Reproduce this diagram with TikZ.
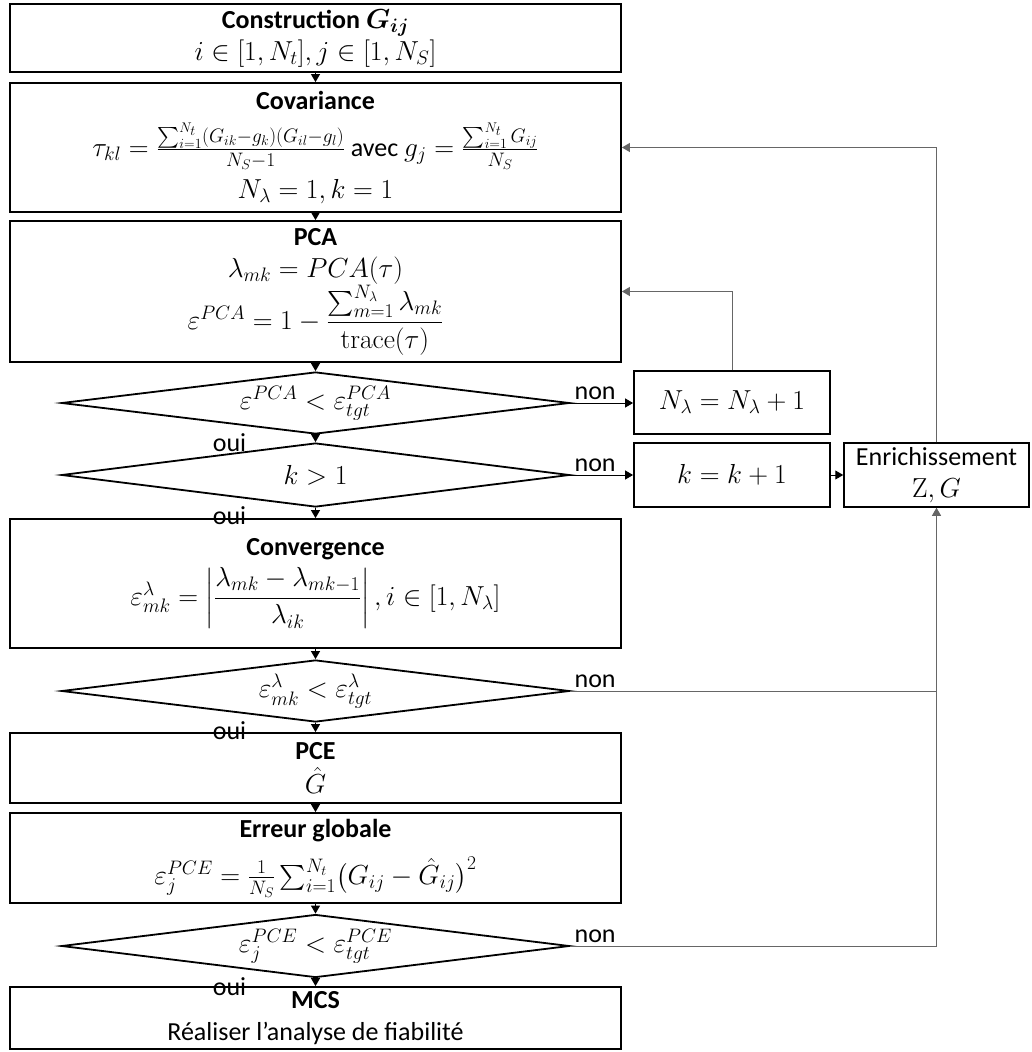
\RequirePackage{fix-cm}
\documentclass[tikz,border=0pt]{standalone}
\usepackage{amsmath}
\usepackage[no-math]{fontspec}
\setmainfont{Carlito}
\DeclareMathSizes{26}{27.5}{19.5}{14}
\usetikzlibrary{shapes.geometric,arrows.meta}
\tikzset{
  every node/.style={font=\fontsize{26}{32}\selectfont},
  box/.style={draw, line width=1.8pt, rectangle, align=center, inner sep=0pt, fill=white},
  mainbox/.style={box, minimum width=611pt},
  sidebox/.style={box, minimum width=196pt, minimum height=63pt},
  dia/.style={draw, line width=1.8pt, diamond, aspect=8, inner sep=0pt, minimum width=508pt, align=center},
  lbl/.style={inner sep=0pt},
  arr/.style={line width=1pt, -{Triangle[width=9pt,length=8pt]}},
  fb/.style={line width=1pt, draw=black!60, -{Triangle[width=9pt,length=8pt]}},
  fbl/.style={line width=1pt, draw=black!60},
}
\begin{document}
\begin{tikzpicture}[x=1pt,y=-1pt]
\useasboundingbox (0,0) rectangle (1031,1052);
% main column
\node[mainbox, minimum height=68pt] (constr) at (315.5,38) {\textbf{Construction} $\boldsymbol{G_{ij}}$\\ $i\in[1,N_t], j\in[1,N_S]$};
\node[mainbox, minimum height=129pt] (cov) at (315.5,147.5) {\textbf{Covariance}\\[12pt] $\tau_{kl}=\frac{\sum_{i=1}^{N_t}(G_{ik}-g_k)(G_{il}-g_l)}{N_S-1}$ avec $g_j=\frac{\sum_{i=1}^{N_t}G_{ij}}{N_S}$\\[10pt] $N_\lambda=1, k=1$};
\node[mainbox, minimum height=141pt] (pca) at (315.5,291.5) {\textbf{PCA}\\ $\lambda_{mk}=PCA(\tau)$\\ $\varepsilon^{PCA}=1-\dfrac{\sum_{m=1}^{N_\lambda}\lambda_{mk}}{\mathrm{trace}(\tau)}$};
\node[dia, minimum height=62pt] (d1) at (315.5,403) {$\varepsilon^{PCA}<\varepsilon^{PCA}_{tgt}$};
\node[dia, minimum height=64pt] (d2) at (315.5,475) {$k>1$};
\node[mainbox, minimum height=129pt] (conv) at (315.5,583.5) {\textbf{Convergence}\\[6pt] $\varepsilon^{\lambda}_{mk}=\left|\dfrac{\lambda_{mk}-\lambda_{mk-1}}{\lambda_{ik}}\right|, i\in[1,N_\lambda]$};
\node[dia, minimum height=62pt] (d3) at (315.5,691) {$\varepsilon^{\lambda}_{mk}<\varepsilon^{\lambda}_{tgt}$};
\node[mainbox, minimum height=70pt] (pce) at (315.5,768) {\textbf{PCE}\\[2pt] $\hat{G}$};
\node[mainbox, minimum height=90pt] (err) at (315.5,858) {\textbf{Erreur globale}\\[14pt] $\varepsilon^{PCE}_j=\frac{1}{N_S}\sum_{i=1}^{N_t}\bigl(G_{ij}-\hat{G}_{ij}\bigr)^2$};
\node[dia, minimum height=63pt] (d4) at (315.5,946) {$\varepsilon^{PCE}_j<\varepsilon^{PCE}_{tgt}$};
\node[mainbox, minimum height=62pt] (mcs) at (315.5,1018) {\textbf{MCS}\\ Réaliser l’analyse de fiabilité};
% side column
\node[sidebox] (nl) at (732,402.5) {$N_\lambda=N_\lambda+1$};
\node[sidebox, minimum height=64pt] (kk) at (732,475) {$k=k+1$};
\node[box, line width=1.5pt, minimum width=185pt, minimum height=64pt] (enr) at (936.5,475) {Enrichissement\\ $\mathrm{Z}, G$};
% main arrows
\draw[arr] (constr.south) -- (cov.north);
\draw[arr] (cov.south) -- (pca.north);
\draw[arr] (pca.south) -- (d1.north);
\draw[arr] (d1.south) -- (d2.north);
\draw[arr] (d2.south) -- (conv.north);
\draw[arr] (conv.south) -- (d3.north);
\draw[arr] (d3.south) -- (pce.north);
\draw[arr] (pce.south) -- (err.north);
\draw[arr] (err.south) -- (d4.north);
\draw[arr] (d4.south) -- (mcs.north);
% side arrows
\draw[arr] (d1.east) -- (d1.east -| nl.west);
\draw[arr] (d2.east) -- (kk.west);
\draw[arr] (kk.east) -- (enr.west);
\draw[fb] (nl.north) |- (pca.east);
\draw[fb] (enr.north) |- (cov.east);
\draw[fb] (d3.east) -| (enr.south);
\draw[fbl] (d4.east) -| (enr.south);
% labels
\node[lbl, anchor=south west] (non1) at ([xshift=4pt,yshift=3pt]d1.east) {non};
\node[lbl, anchor=south west] (non2) at ([xshift=4pt,yshift=3pt]d2.east) {non};
\node[lbl, anchor=south west] (non3) at ([xshift=4pt,yshift=3pt]d3.east) {non};
\node[lbl, anchor=south west] (non4) at ([xshift=4pt,yshift=3pt]d4.east) {non};
\node[lbl, anchor=north] (oui1) at ([xshift=-86pt,yshift=1pt]d1.south) {oui};
\node[lbl, anchor=north] (oui2) at ([xshift=-86pt,yshift=1pt]d2.south) {oui};
\node[lbl, anchor=north] (oui3) at ([xshift=-86pt,yshift=1pt]d3.south) {oui};
\node[lbl, anchor=north] (oui4) at ([xshift=-86pt,yshift=1pt]d4.south) {oui};
\end{tikzpicture}
\end{document}
